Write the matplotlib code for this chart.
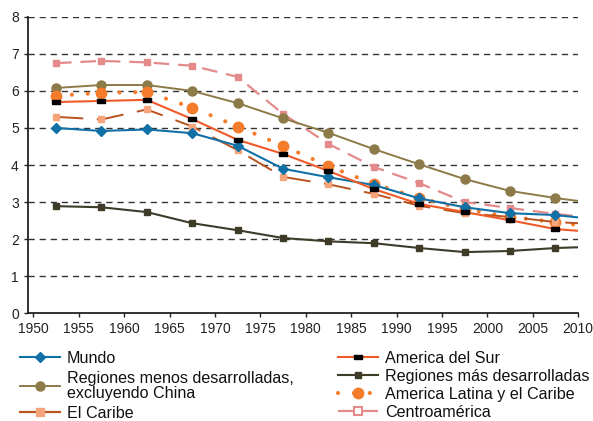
import matplotlib.pyplot as plt
from matplotlib.lines import Line2D

plt.rcParams['font.family'] = ['Liberation Sans', 'DejaVu Sans']

# --- Data (total fertility rate, 5-year periods, plotted at mid-period) ---
years = [1952.5, 1957.5, 1962.5, 1967.5, 1972.5, 1977.5, 1982.5,
         1987.5, 1992.5, 1997.5, 2002.5, 2007.5]
# one extra point past the axis edge so the lines run to the border
years_ext = years + [2012.5]

mundo = [5.00, 4.92, 4.96, 4.86, 4.52, 3.90, 3.67, 3.46, 3.10, 2.86, 2.70, 2.65, 2.52]
menos_desarr = [6.08, 6.16, 6.16, 6.00, 5.67, 5.26, 4.87, 4.43, 4.02, 3.62, 3.30, 3.11, 2.95]
america_sur = [5.70, 5.73, 5.76, 5.24, 4.68, 4.30, 3.84, 3.35, 2.95, 2.73, 2.51, 2.27, 2.18]
mas_desarr = [2.89, 2.86, 2.73, 2.43, 2.24, 2.03, 1.94, 1.89, 1.76, 1.65, 1.68, 1.76, 1.80]
latina_caribe = [5.87, 5.95, 5.97, 5.55, 5.04, 4.52, 3.97, 3.49, 3.11, 2.81, 2.60, 2.46, 2.30]
el_caribe = [5.30, 5.23, 5.50, 5.04, 4.40, 3.68, 3.48, 3.22, 2.90, 2.70, 2.60, 2.46, 2.40]
centroamerica = [6.75, 6.81, 6.77, 6.68, 6.38, 5.38, 4.57, 3.95, 3.51, 3.00, 2.84, 2.68, 2.55]

x_ticks = list(range(1950, 2011, 5))
y_ticks = list(range(0, 9))

# --- Figure ---
fig = plt.figure(figsize=(5.93, 4.21), dpi=100)
ax = fig.add_axes([0.047, 0.256, 0.928, 0.704])

rect = [(-1, -0.6), (1, -0.6), (1, 0.6), (-1, 0.6), (-1, -0.6)]
pts = list(range(len(years)))

C_CENTRO = '#e58a8a'

l_centro, = ax.plot(years_ext, centroamerica, color=C_CENTRO, lw=1.6, dashes=(7, 4),
                    marker='s', ms=4.5, mfc=C_CENTRO, mec=C_CENTRO, markevery=pts)
l_menos, = ax.plot(years_ext, menos_desarr, color='#8c7a48', lw=1.4, marker='o', ms=6.5,
                   markevery=pts, label='Regiones menos desarrolladas,\nexcluyendo China')
l_latina, = ax.plot(years_ext, latina_caribe, color='#f47c2a', lw=3, linestyle=(0, (0.01, 3.8)),
                    dash_capstyle='round', marker='o', ms=7.5, mec='#f47c2a',
                    markevery=pts, label='America Latina y el Caribe')
l_caribe, = ax.plot(years_ext, el_caribe, color='#b9531f', lw=1.4, dashes=(14, 7),
                    marker='s', ms=5, mfc='#f6a47c', mec='#f6a47c',
                    markevery=pts, label='El Caribe')
l_mundo, = ax.plot(years_ext, mundo, color='#1170a6', lw=1.5, marker='D', ms=5.5,
                   markevery=pts, label='Mundo')
l_sur, = ax.plot(years_ext, america_sur, color='#f05a28', lw=1.5, marker=rect, ms=5.5,
                 mfc='black', mec='black', markevery=pts, label='America del Sur')
l_mas, = ax.plot(years_ext, mas_desarr, color='#3e3b28', lw=1.5, marker='s', ms=5,
                 markevery=pts, label='Regiones más desarrolladas')

# legend proxies: solid El Caribe line, hollow marker for Centroamérica
h_caribe = Line2D([], [], color='#b9531f', lw=1.6, marker='s', ms=6,
                  mfc='#f6a47c', mec='#f6a47c', label='El Caribe')
h_centro = Line2D([], [], color=C_CENTRO, lw=1.6, dashes=(7, 4), marker='s', ms=6,
                  mfc='white', mec=C_CENTRO, mew=1.5, label='Centroamérica')

ax.set_xlim(1949.4, 2010.0)
ax.set_ylim(0, 8)
ax.set_xticks(x_ticks)
ax.set_yticks(y_ticks)
ax.tick_params(labelsize=10, colors='#222222', length=3, width=1)

for y in y_ticks[1:]:
    ax.axhline(y, color='#333333', lw=1, dashes=(4.5, 3.5), zorder=0)

for s in ['top', 'right']:
    ax.spines[s].set_visible(False)
for s in ['left', 'bottom']:
    ax.spines[s].set_linewidth(1.3)
    ax.spines[s].set_color('#222222')

# --- Legends (two columns placed independently) ---
leg_kw = dict(frameon=False, fontsize=11.6, handlelength=2.5, handletextpad=0.4,
              borderaxespad=0, borderpad=0)
leg1 = fig.legend(handles=[l_mundo, l_menos, h_caribe], loc='upper left',
                  bbox_to_anchor=(0.034, 0.166), labelspacing=0.3, **leg_kw)
leg2 = fig.legend(handles=[l_sur, l_mas, l_latina, h_centro], loc='upper left',
                  bbox_to_anchor=(0.57, 0.166), labelspacing=0.18, **leg_kw)
for leg in (leg1, leg2):
    for t in leg.get_texts():
        t.set_linespacing(1.0)
        t.set_color('#111111')

fig.savefig('out.png', dpi=100)
